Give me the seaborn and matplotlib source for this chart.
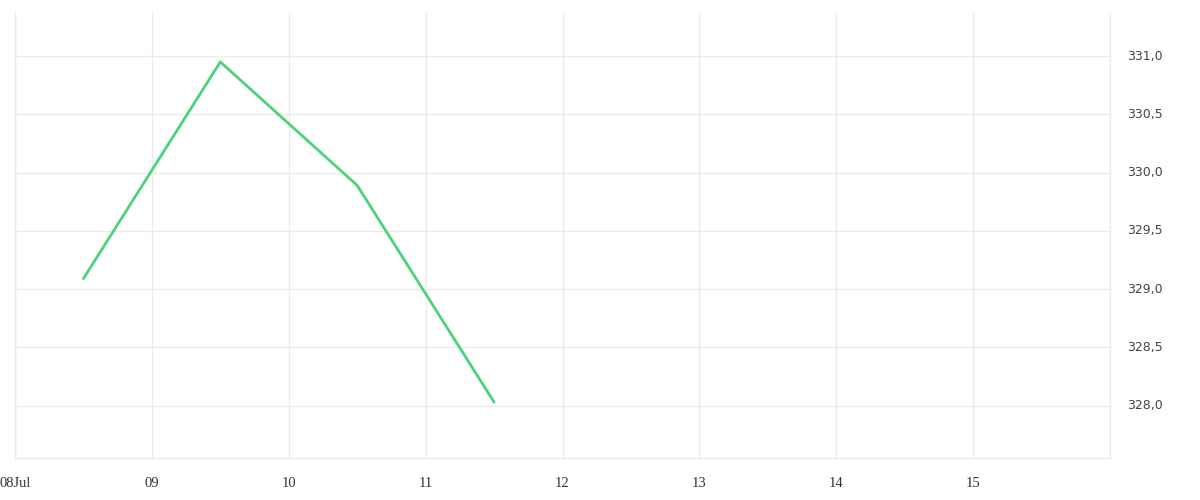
import pandas as pd
import seaborn as sns
import matplotlib.pyplot as plt
from matplotlib.ticker import FuncFormatter

# readings at midday
times = ['2023-07-08 12:00', '2023-07-09 12:00', '2023-07-10 12:00', '2023-07-11 12:00']
values = [329.09, 330.95, 329.89, 328.03]

day_ticks = pd.date_range('2023-07-08', '2023-07-16', freq='D')
day_labels = ['08Jul', '09', '10', '11', '12', '13', '14', '15', '']
y_ticks = [328.0, 328.5, 329.0, 329.5, 330.0, 330.5, 331.0]

df = pd.DataFrame({'time': pd.to_datetime(times), 'value': values})

sns.set_style('white')
grid_col = '#ebebeb'

fig = plt.figure(figsize=(12, 5), dpi=100)
ax = fig.add_axes([0.0125, 0.084, 0.9125, 0.89])
sns.lineplot(x='time', y='value', data=df, ax=ax, color='#4cd37a', linewidth=2)

ax.set_xlim(day_ticks[0], day_ticks[-1])
ax.set_ylim(327.55, 331.37)

ax.set_xticks(day_ticks)
ax.xaxis.set_major_formatter(FuncFormatter(
    lambda v, p: day_labels[p] if p is not None and p < len(day_labels) else ''))
ax.tick_params(axis='x', length=8, color=grid_col, width=1, pad=6, labelsize=10.5,
               labelcolor='#333333')
for lab in ax.get_xticklabels():
    lab.set_fontfamily('Liberation Serif')

ax.yaxis.tick_right()
ax.set_yticks(y_ticks)
ax.yaxis.set_major_formatter(FuncFormatter(lambda v, p: f'{v:.1f}'.replace('.', ',')))
ax.tick_params(axis='y', length=0, pad=12, labelsize=9, labelcolor='#444444')
for lab in ax.get_yticklabels():
    lab.set_fontfamily('DejaVu Sans')
    lab.set_verticalalignment('center')

ax.grid(True, color=grid_col, linewidth=1)
ax.spines['top'].set_visible(False)
for s in ['bottom', 'left', 'right']:
    ax.spines[s].set_color(grid_col)
    ax.spines[s].set_linewidth(1)
ax.set_xlabel('')
ax.set_ylabel('')

plt.savefig('out.png')
